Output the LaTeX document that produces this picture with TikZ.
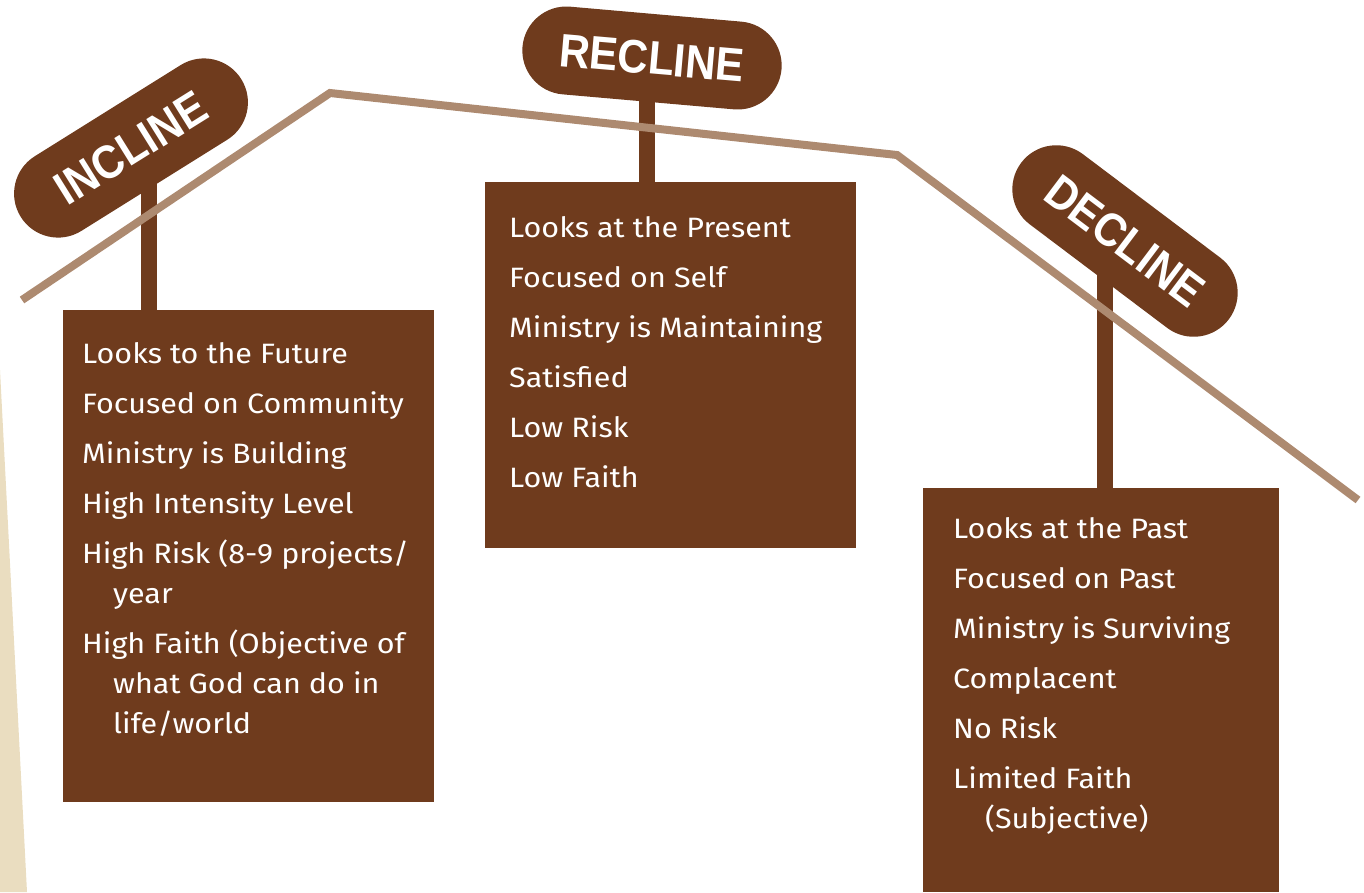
\documentclass[tikz,border=0pt]{standalone}
\usepackage{fontspec}
\setmainfont{Fira Sans}[FakeStretch=1.09]
\newfontfamily\signfont{Liberation Sans}[FakeStretch=0.9]
\usetikzlibrary{calc}
\pgfdeclarelayer{back}
\pgfsetlayers{back,main}
\definecolor{brn}{HTML}{6F3B1D}
\definecolor{roof}{HTML}{AD8A70}
\definecolor{beige}{HTML}{EADDC0}
\tikzset{
  sign/.style={draw=none, fill=brn, minimum width=260pt, minimum height=88pt,
    rounded corners=44pt, inner sep=0pt, text=white, font=\signfont\bfseries\fontsize{47}{47}\selectfont},
  post/.style={draw=brn, line width=16pt},
  infobox/.style={fill=brn, draw=none, inner sep=0pt, outer sep=0pt, anchor=north west},
  infotext/.style={text=white, align=left, inner sep=0pt, anchor=north west, font=\fontsize{28}{40}\selectfont},
  roofline/.style={draw=roof, line width=8pt},
}
\begin{document}
\begin{tikzpicture}[x=1pt,y=-1pt]
\useasboundingbox (0,0) rectangle (1364,892);
\begin{pgfonlayer}{back}
\fill[beige] (0,370) -- (27,892) -- (0,892) -- cycle;
\end{pgfonlayer}

% boxes
\node[infobox, minimum width=371pt, minimum height=492pt] (incbox) at (63,310) {};
\node[infobox, minimum width=371pt, minimum height=366pt] (recbox) at (485,182) {};
\node[infobox, minimum width=356pt, minimum height=404pt] (decbox) at (923,488) {};

% roof
\coordinate (r1) at (22,300);
\coordinate (r2) at (330,93);
\coordinate (r3) at (897,155);
\coordinate (r4) at (1358,500);
\draw[roofline] (r1) -- (r2) -- (r3) -- (r4);

% signs
\node[sign, rotate=32] (incsign) at (131,148) {INCLINE};
\node[sign, rotate=-5] (recsign) at (652,58) {RECLINE};
\node[sign, rotate=-37] (decsign) at (1125,241) {DECLINE};

% posts
\coordinate (incpost) at (149,310);
\coordinate (recpost) at (647,182);
\coordinate (decpost) at (1105,488);
\begin{pgfonlayer}{back}
\draw[post] (incpost) -- (incpost |- incsign.center);
\draw[post] (recpost) -- (recpost |- recsign.center);
\draw[post] (decpost) -- (decpost |- decsign.center);
\end{pgfonlayer}

% texts
\node[infotext] (inctext) at (82,342) {Looks to the Future\\[10pt]
Focused on Community\\[10pt]
Ministry is Building\\[10pt]
High Intensity Level\\[10pt]
High Risk (8-9 projects/\\
\hspace*{31pt}year\\[10pt]
High Faith (Objective of\\
\hspace*{31pt}what God can do in\\
\hspace*{31pt}life/world};

\node[infotext] (rectext) at (509,216) {Looks at the Present\\[10pt]
Focused on Self\\[10pt]
Ministry is Maintaining\\[10pt]
Satisfied\\[10pt]
Low Risk\\[10pt]
Low Faith};

\node[infotext] (dectext) at (953,517) {Looks at the Past\\[10pt]
Focused on Past\\[10pt]
Ministry is Surviving\\[10pt]
Complacent\\[10pt]
No Risk\\[10pt]
Limited Faith\\
\hspace*{32pt}(Subjective)};
\end{tikzpicture}
\end{document}
